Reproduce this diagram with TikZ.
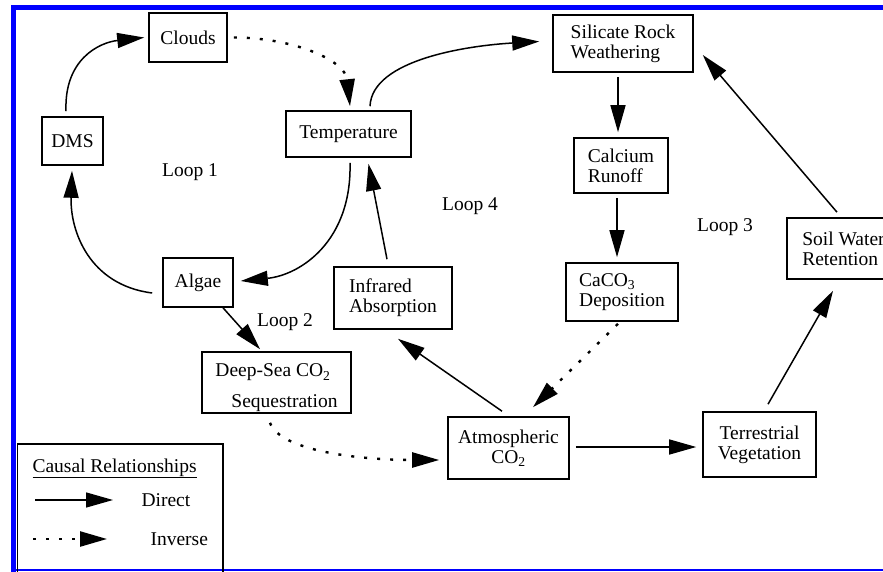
\documentclass[tikz,border=0pt]{standalone}
\usepackage{fontspec}
\setmainfont{Liberation Serif}
\usetikzlibrary{arrows.meta}
\begin{document}
\begin{tikzpicture}[x=1pt,y=-1pt,
  every node/.style={font=\fontsize{19.5}{20}\selectfont},
  box/.style={draw, line width=1.6pt, inner sep=0pt},
  direct/.style={line width=1.5pt, -{Triangle[length=27pt,width=15pt]}},
  inverse/.style={line width=2.4pt, dash pattern=on 3pt off 10pt, -{Triangle[length=27pt,width=15pt]}}]
\clip (0,0) rectangle (883,572);
\fill[white] (0,0) rectangle (883,572);
% frame
\fill[blue] (11,5) rectangle (883,10);
\fill[blue] (11,5) rectangle (15.5,572);
\fill[blue] (11,569) rectangle (883,571);
% boxes
\node[box, minimum width=78pt, minimum height=49pt] (clouds) at (188,37.5) {Clouds};
\node[box, minimum width=61pt, minimum height=48pt] (dms) at (72.5,141) {DMS};
\node[box, minimum width=125pt, minimum height=46pt] (temp) at (348.5,134) {Temperature};
\node[box, align=left, minimum width=140pt, minimum height=57pt] (sil) at (623,43.5) {Silicate Rock\\Weathering};
\node[box, align=left, minimum width=94pt, minimum height=55pt] (cal) at (621,165.5) {Calcium\\Runoff};
\node[box, minimum width=70pt, minimum height=49pt] (algae) at (198,282.5) {Algae};
\node[box, align=left, minimum width=118pt, minimum height=62pt] (infra) at (393,298) {Infrared\\Absorption};
\node[box, align=left, minimum width=149pt, minimum height=61pt] (deep) at (276.5,382.5) {\rule{0pt}{24pt}Deep-Sea CO\textsubscript{2}\\[11pt]\hspace*{16pt}Sequestration};
\node[box, align=left, minimum width=112pt, minimum height=58pt] (caco) at (622,292) {CaCO\textsubscript{3}\\Deposition};
\node[box, align=left, minimum width=113pt, minimum height=61pt] (soil) at (843.5,248.5) {Soil Water\\Retention};
\node[box, align=center, minimum width=121pt, minimum height=62pt] (atm) at (508.5,448) {Atmospheric\\CO\textsubscript{2}};
\node[box, align=center, minimum width=113pt, minimum height=65pt] (terr) at (759.5,444.5) {Terrestrial\\Vegetation};
% loop labels
\node (loopa) at (190,172) {Loop 1};
\node (loopb) at (285,322) {Loop 2};
\node (loopc) at (725,227) {Loop 3};
\node (loopd) at (470,206) {Loop 4};
% connectors
\draw[direct] ([xshift=-6.5pt,yshift=5pt]dms.north) .. controls +(-2,-52) and +(-45,5) .. ([xshift=-4pt]clouds.west);
\draw[inverse] ([xshift=6pt]clouds.east) .. controls +(57,0) and +(-5,-47) .. ([xshift=1.5pt,yshift=4pt]temp.north);
\draw[direct] ([xshift=21.5pt,yshift=4pt]temp.north) .. controls +(2,-47) and +(-70,4) .. ([xshift=-13pt,yshift=2pt]sil.west);
\draw[direct] ([xshift=-5pt,yshift=-4pt]sil.south) -- ([xshift=-3pt,yshift=5pt]cal.north);
\draw[direct] ([xshift=-4pt,yshift=-4pt]cal.south) -- ([xshift=-5pt,yshift=5pt]caco.north);
\draw[inverse] ([xshift=-4pt,yshift=-2pt]caco.south) -- ([xshift=24.5pt,yshift=9pt]atm.north);
\draw[direct] ([xshift=-6.5pt,yshift=5pt]atm.north) -- ([xshift=5pt,yshift=-9pt]infra.south);
\draw[direct] ([xshift=-6pt,yshift=7pt]infra.north) -- ([xshift=20pt,yshift=-6pt]temp.south);
\draw[direct] ([xshift=1.5pt,yshift=-5pt]temp.south) .. controls +(2,78) and +(60,-6) .. ([xshift=7pt,yshift=1.5pt]algae.east);
\draw[direct] ([xshift=-10pt,yshift=-10.5pt]algae.west) .. controls +(-63,-8) and +(-2,60) .. ([xshift=-0.5pt,yshift=-5pt]dms.south);
\draw[direct] ([xshift=25pt]algae.south) -- ([xshift=-16.5pt,yshift=2pt]deep.north);
\draw[inverse] ([xshift=-6.5pt,yshift=-9pt]deep.south) .. controls +(10,28) and +(-80,0) .. ([xshift=-8pt,yshift=-12pt]atm.west);
\draw[direct] ([xshift=6pt,yshift=1pt]atm.east) -- ([xshift=-6pt,yshift=-2.5pt]terr.west);
\draw[direct] ([xshift=8.5pt,yshift=7pt]terr.north) -- ([xshift=-10.5pt,yshift=-11pt]soil.south);
\draw[direct] ([xshift=-6.5pt,yshift=5pt]soil.north) -- ([xshift=9pt,yshift=-11.5pt]sil.east);
% legend
\node[box, anchor=north west, minimum width=205.5pt, minimum height=135pt] (legend) at (16.5,443) {};
\node[anchor=base west] (ltitle) at (29,472) {\underline{Causal Relationships}};
\coordinate (da) at (35,500);
\coordinate (db) at (113,500);
\draw[direct] (da) -- (db);
\node[anchor=base west] (ldirect) at (138,506) {Direct};
\coordinate (ia) at (33,539);
\coordinate (ib) at (107,539);
\draw[inverse] (ia) -- (ib);
\node[anchor=base west] (linverse) at (147,545) {Inverse};
\end{tikzpicture}
\end{document}
